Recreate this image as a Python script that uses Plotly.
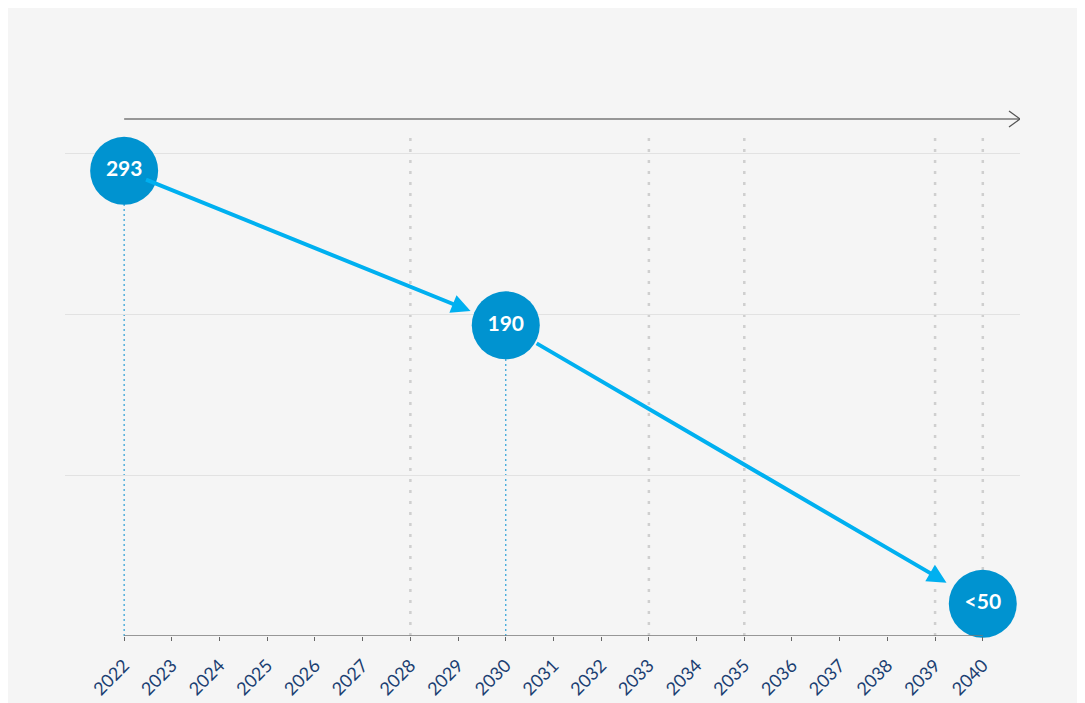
import plotly.graph_objects as go

# ---- data ----
years = list(range(2022, 2041))
milestone_years = [2022, 2030, 2040]
milestone_values = [289, 193, 20]          # plotted positions
milestone_labels = ["293", "190", "<50"]
highlight_years = [2028, 2033, 2035, 2039, 2040]
grid_values = [100, 200, 300]

x_range = [2020.76, 2040.78]
y_range = [0, 333]

CIRCLE = "#0093d0"
ARROW = "#00b0f0"
BG = "#f5f5f5"

fig = go.Figure()

fig.add_trace(go.Scatter(
    x=milestone_years, y=milestone_values, mode="markers+text",
    text=milestone_labels, textposition="middle center",
    marker=dict(size=68, color=CIRCLE, line=dict(width=0)),
    textfont=dict(family="Lato", size=21, color="white", weight="bold"),
    hoverinfo="skip", showlegend=False, cliponaxis=False,
))

shapes = []
# gray dotted highlight year lines
for yr in highlight_years:
    shapes.append(dict(type="line", xref="x", yref="paper", x0=yr, x1=yr,
                       y0=0, y1=0.944, line=dict(color="#cfcfcf", width=2.5, dash="3px,8px"),
                       layer="below"))
# blue dotted lines under milestones
for yr, v in zip(milestone_years[:2], milestone_values[:2]):
    shapes.append(dict(type="line", xref="x", yref="y", x0=yr, x1=yr, y0=0, y1=v,
                       line=dict(color="#2a9fd6", width=1.2, dash="2px,3px"), layer="below"))
# x axis baseline
shapes.append(dict(type="line", xref="x", yref="y", x0=years[0], x1=years[-1], y0=0, y1=0,
                   line=dict(color="#777777", width=1.5), layer="above"))
# top timeline arrow
shapes.append(dict(type="line", xref="x", yref="paper", x0=years[0], x1=x_range[1],
                   y0=0.9646, y1=0.9646, line=dict(color="#777777", width=1.5)))
shapes.append(dict(type="path", xref="x", yref="paper", xsizemode="pixel", ysizemode="pixel",
                   xanchor=x_range[1], yanchor=0.9646, path="M -11,8 L 0,0 L -11,-8",
                   line=dict(color="#555555", width=1.3)))

annotations = []
standoffs = [(22, 38), (34, 42)]
for i in range(2):
    annotations.append(dict(
        x=milestone_years[i + 1], y=milestone_values[i + 1],
        ax=milestone_years[i], ay=milestone_values[i],
        xref="x", yref="y", axref="x", ayref="y", text="",
        showarrow=True, arrowhead=2, arrowsize=0.95, arrowwidth=4, arrowcolor=ARROW,
        startstandoff=standoffs[i][0], standoff=standoffs[i][1],
    ))

fig.update_layout(
    width=1085, height=703,
    margin=dict(l=57, r=73, t=92, b=75, autoexpand=False),
    paper_bgcolor=BG, plot_bgcolor=BG,
    shapes=shapes, annotations=annotations,
    xaxis=dict(range=x_range, tickvals=years, ticktext=[str(y) for y in years],
               tickangle=-45, ticks="outside", ticklen=4, tickcolor="#666666", tickwidth=1,
               ticklabelstandoff=7,
               showgrid=False, zeroline=False, showline=False, automargin=False,
               tickfont=dict(family="Lato", size=18, color="#1b3f72")),
    yaxis=dict(range=y_range, tickvals=grid_values, showticklabels=False, automargin=False,
               showgrid=True, gridcolor="#e2e2e2", gridwidth=1, zeroline=False, showline=False),
)

fig.write_html("out.html")
